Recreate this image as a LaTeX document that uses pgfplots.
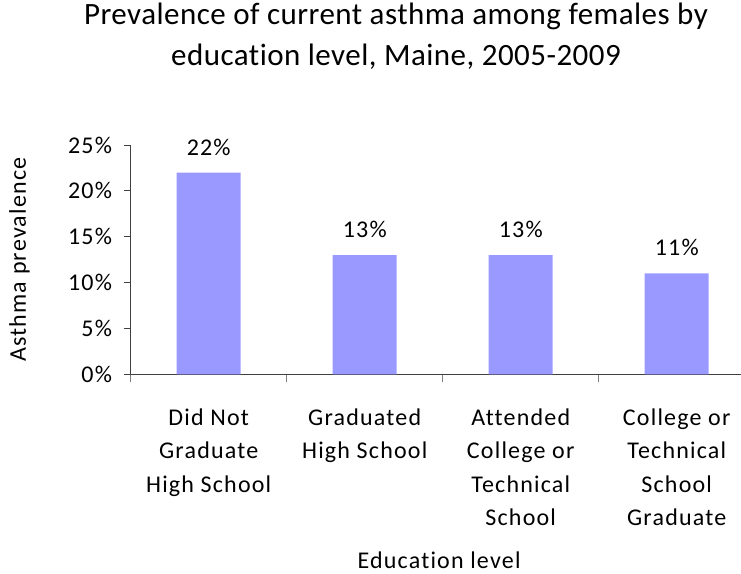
\documentclass[border=0pt]{standalone}
\usepackage{pgfplots}
\pgfplotsset{compat=1.18}
\usepackage{fontspec}
\setmainfont{Carlito}[Ligatures=NoCommon]
\newfontfamily\lblfont{Carlito}[LetterSpace=5, Ligatures=NoCommon]
\newfontfamily\ttlfont{Carlito}[LetterSpace=1.5, Ligatures=NoCommon]
\definecolor{barblue}{HTML}{9999FF}
\definecolor{axisline}{HTML}{404040}
\definecolor{tickgray}{HTML}{808080}

\begin{document}
\begin{tikzpicture}[x=1pt,y=1pt]
\useasboundingbox (0,0) rectangle (741,573);
\begin{axis}[
  at={(130.7pt,198.7pt)}, anchor=south west,
  scale only axis,
  width=610.3pt, height=229.3pt,
  xmin=-0.5, xmax=3.412,
  ymin=0, ymax=25,
  axis x line*=bottom,
  axis y line*=left,
  axis line style={axisline, line width=1pt},
  ybar,
  bar width=64pt,
  xtick={0,1,2,3},
  xticklabels={
    {Did Not\\Graduate\\High School},
    {Graduated\\High School},
    {Attended\\College or\\Technical\\School},
    {College or\\Technical\\School\\Graduate}},
  minor xtick={-0.5,0.5,1.5,2.5},
  major x tick style={draw=none},
  minor x tick style={tickgray, line width=1pt},
  y tick style={axisline, line width=1pt},
  ytick={0,5,10,15,20,25},
  yticklabels={0\%,5\%,10\%,15\%,20\%,25\%},
  tick align=outside,
  major tick length=7pt,
  minor tick length=8pt,
  xticklabel style={align=center, anchor=north, inner sep=0pt, yshift=-27pt,
    font=\lblfont\fontsize{24}{33.5}\selectfont},
  yticklabel style={anchor=east, inner sep=0pt, xshift=-11.5pt,
    font=\lblfont\fontsize{24}{29}\selectfont},
  xlabel={Education level},
  xlabel style={at={(axis description cs:0.5052,-0.846)}, anchor=base,
    inner sep=0pt, font=\lblfont\fontsize{24}{29}\selectfont},
  ylabel={Asthma prevalence},
  ylabel style={at={(axis description cs:-0.1716,0.5)}, anchor=base,
    inner sep=0pt, font=\lblfont\fontsize{24}{29}\selectfont},
  title={Prevalence of current asthma among females by\\education level, Maine, 2005-2009},
  title style={at={(axis description cs:0.4347,1.3227)}, anchor=base,
    align=center, inner sep=0pt, font=\ttlfont\fontsize{31}{41}\selectfont},
  nodes near coords={\pgfmathprintnumber[assume math mode=true]{\pgfplotspointmeta}\%},
  every node near coord/.append style={anchor=base, yshift=17.5pt,
    inner sep=0pt, font=\lblfont\fontsize{24}{29}\selectfont},
  clip=false,
]
\addplot[fill=barblue, draw=none] coordinates {
  (0,22) (1,13) (2,13) (3,11)
};
\end{axis}
\end{tikzpicture}
\end{document}
